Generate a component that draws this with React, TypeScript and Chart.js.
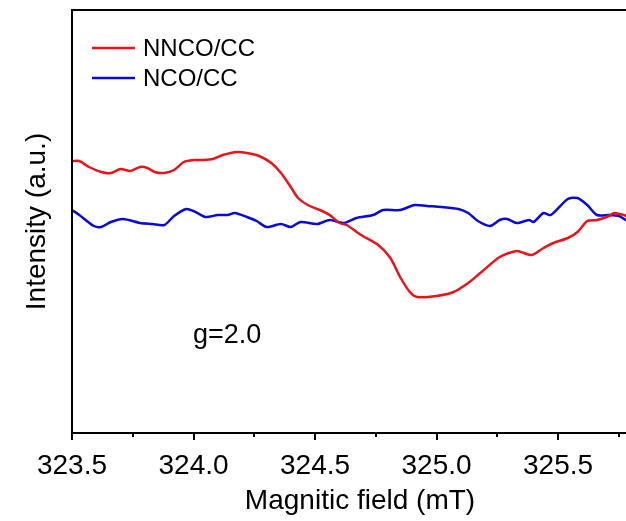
import React, { useEffect, useRef } from "react";
import { Chart, registerables } from "chart.js";

Chart.register(...registerables);

// Magnetic field (mT) and intensity (a.u.)
const nncoField = [
  323.5, 323.53, 323.57, 323.62, 323.66, 323.7, 323.74, 323.78, 323.81, 323.84,
  323.88, 323.92, 323.96, 324.0, 324.04, 324.08, 324.12, 324.18, 324.22, 324.27,
  324.32, 324.36, 324.4, 324.43, 324.47, 324.52, 324.56, 324.6, 324.63, 324.69,
  324.76, 324.81, 324.85, 324.89, 324.92, 325.0, 325.07, 325.13, 325.18, 325.26,
  325.33, 325.39, 325.44, 325.48, 325.54, 325.58, 325.62, 325.66, 325.71, 325.73,
  325.77, 325.82, 325.87,
];
const nncoIntensity = [
  272, 272, 266, 261, 260, 264, 262, 266, 265, 261,
  260, 263, 271, 273, 273, 274, 278, 281, 280, 277,
  270, 260, 246, 235, 228, 223, 218, 210, 208, 198,
  188, 175, 156, 141, 136, 137, 141, 150, 160, 176,
  182, 178, 185, 190, 195, 201, 212, 213, 217, 220,
  218, 214, 212,
];

const ncoField = [
  323.5, 323.53, 323.59, 323.62, 323.66, 323.71, 323.78, 323.83, 323.88, 323.92,
  323.97, 324.0, 324.05, 324.1, 324.14, 324.17, 324.22, 324.26, 324.3, 324.36,
  324.4, 324.44, 324.51, 324.56, 324.62, 324.67, 324.74, 324.78, 324.85, 324.91,
  324.96, 325.02, 325.09, 325.13, 325.17, 325.22, 325.26, 325.29, 325.33, 325.38,
  325.4, 325.44, 325.47, 325.54, 325.58, 325.62, 325.66, 325.71, 325.75, 325.78,
  325.83, 325.87,
];
const ncoIntensity = [
  223, 218, 207, 206, 211, 214, 210, 209, 208, 217,
  224, 222, 216, 218, 218, 220, 216, 212, 206, 209,
  206, 211, 209, 213, 210, 215, 218, 223, 223, 228,
  227, 226, 224, 220, 212, 207, 213, 214, 210, 213,
  211, 220, 218, 234, 235, 228, 218, 218, 217, 213,
  211, 210,
];

const majorTicks = [323.5, 324.0, 324.5, 325.0, 325.5];
const minorTicks = [323.75, 324.25, 324.75, 325.25, 325.75];

const seriesLabels = ["NNCO/CC", "NCO/CC"];
const seriesColors = ["#e8141a", "#0a0ad8"];
const annotationText = "g=2.0";
const xTitle = "Magnitic field (mT)";
const yTitle = "Intensity (a.u.)";

const FONT = "'Liberation Sans', Arial, Helvetica, sans-serif";

const framePlugin = {
  id: "frameAndLegend",
  afterDraw(chart: any) {
    const { ctx, chartArea, scales } = chart;
    const { left, right, top, bottom } = chartArea;
    const xs = scales.x;
    ctx.save();
    ctx.strokeStyle = "#000";
    ctx.lineWidth = 2;
    ctx.lineCap = "butt";
    ctx.beginPath();
    ctx.moveTo(left, top);
    ctx.lineTo(right, top);
    ctx.moveTo(left, top - 1);
    ctx.lineTo(left, bottom + 1);
    ctx.moveTo(left - 1, bottom);
    ctx.lineTo(right, bottom);
    ctx.stroke();
    // ticks
    ctx.beginPath();
    majorTicks.forEach((v) => {
      const px = Math.round(xs.getPixelForValue(v));
      ctx.moveTo(px, bottom);
      ctx.lineTo(px, bottom + 7);
    });
    minorTicks.forEach((v) => {
      const px = Math.round(xs.getPixelForValue(v));
      ctx.moveTo(px, bottom);
      ctx.lineTo(px, bottom + 4);
    });
    ctx.stroke();

    // legend
    ctx.font = `24px ${FONT}`;
    ctx.textBaseline = "middle";
    ctx.textAlign = "left";
    chart.data.datasets.forEach((ds: any, i: number) => {
      const y = 48 + i * 30;
      ctx.strokeStyle = ds.borderColor;
      ctx.lineWidth = 2.5;
      ctx.beginPath();
      ctx.moveTo(92, y);
      ctx.lineTo(135, y);
      ctx.stroke();
      ctx.fillStyle = "#000";
      ctx.fillText(ds.label, 143, y + 1);
    });

    // annotation
    ctx.font = `27px ${FONT}`;
    ctx.fillStyle = "#000";
    ctx.fillText(annotationText, 193, 336);
    ctx.restore();
  },
};

export default function App() {
  const canvasRef = useRef<HTMLCanvasElement | null>(null);

  useEffect(() => {
    const canvas = canvasRef.current;
    if (!canvas) return;
    const chart = new Chart(canvas, {
      type: "line",
      data: {
        datasets: [
          {
            label: seriesLabels[0],
            data: nncoField.map((x, i) => ({ x, y: nncoIntensity[i] })),
            borderColor: seriesColors[0],
            borderWidth: 2.5,
            pointRadius: 0,
            tension: 0.25,
          },
          {
            label: seriesLabels[1],
            data: ncoField.map((x, i) => ({ x, y: ncoIntensity[i] })),
            borderColor: seriesColors[1],
            borderWidth: 2.5,
            pointRadius: 0,
            tension: 0.25,
          },
        ],
      },
      options: {
        animation: false,
        responsive: false,
        maintainAspectRatio: false,
        layout: { padding: { top: 10, right: 0, left: 0, bottom: 0 } },
        plugins: { legend: { display: false }, tooltip: { enabled: false } },
        scales: {
          x: {
            type: "linear",
            min: 323.5,
            max: 325.87,
            afterBuildTicks: (scale: any) => {
              scale.ticks = majorTicks.map((v) => ({ value: v }));
            },
            afterFit: (scale: any) => {
              scale.height = 88;
            },
            grid: { display: false, drawTicks: false },
            border: { display: false },
            ticks: {
              maxRotation: 0,
              autoSkip: false,
              padding: 16,
              color: "#000",
              font: { family: FONT, size: 28 },
              callback: (v: any) => Number(v).toFixed(1),
            },
            title: {
              display: true,
              text: xTitle,
              color: "#000",
              font: { family: FONT, size: 28 },
              padding: { top: 0, bottom: 3 },
            },
          },
          y: {
            min: 0,
            max: 423,
            afterFit: (scale: any) => {
              scale.width = 72;
            },
            grid: { display: false, drawTicks: false },
            border: { display: false },
            ticks: { display: false },
            title: {
              display: true,
              text: yTitle,
              color: "#000",
              font: { family: FONT, size: 28 },
              padding: { top: 20, bottom: 0 },
            },
          },
        },
      },
      plugins: [framePlugin],
    });
    return () => chart.destroy();
  }, []);

  return (
    <div
      style={{
        position: "absolute",
        left: 0,
        top: 0,
        width: 626,
        height: 521,
        overflow: "hidden",
        background: "#fff",
      }}
    >
      <canvas
        ref={canvasRef}
        width={648}
        height={521}
        style={{ width: 648, height: 521, display: "block" }}
      />
    </div>
  );
}
